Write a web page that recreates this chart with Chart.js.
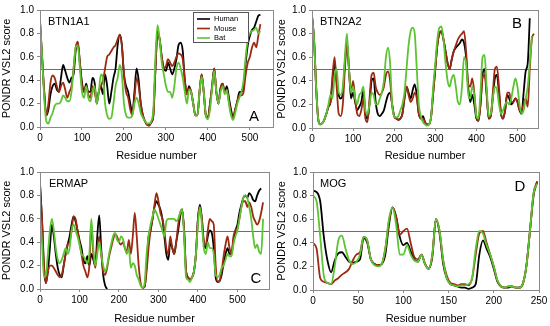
<!DOCTYPE html>
<html>
<head>
<meta charset="utf-8">
<script src="https://cdn.jsdelivr.net/npm/chart.js@4/dist/chart.umd.min.js"></script>
<style>
  body { margin: 0; background: #fff; }
  #wrap { position: relative; width: 550px; height: 326px; }
  .panel { position: absolute; width: 275px; height: 163px; }
</style>
</head>
<body>
<div id="wrap">
  <div class="panel" style="left:0;top:0"><canvas id="cA" width="275" height="163"></canvas></div>
  <div class="panel" style="left:275px;top:0"><canvas id="cB" width="275" height="163"></canvas></div>
  <div class="panel" style="left:0;top:163px"><canvas id="cC" width="275" height="163"></canvas></div>
  <div class="panel" style="left:275px;top:163px"><canvas id="cD" width="275" height="163"></canvas></div>
</div>
<script>
function range(a, b, s) {
  const r = [];
  for (let v = a; v <= b; v += s) r.push(v);
  return r;
}

const seriesNames = ["Human", "Mouse", "Bat"];
const yTicks = [0, 0.2, 0.4, 0.6, 0.8, 1.0];
const xTicks500 = [0, 100, 200, 300, 400, 500];
const xTicks250 = [0, 50, 100, 150, 200, 250];

// BTN1A1
const residuesA = range(0, 525, 5);
const humanA = [0.9,0.6,0.3,0.1,0.15,0.28,0.35,0.37,0.32,0.3,
  0.42,0.53,0.48,0.42,0.38,0.42,0.45,0.65,0.72,0.55,
  0.38,0.3,0.37,0.3,0.3,0.42,0.38,0.2,0.3,0.35,
  0.28,0.45,0.35,0.2,0.3,0.42,0.5,0.7,0.79,0.7,
  0.45,0.35,0.3,0.2,0.12,0.3,0.5,0.4,0.2,0.1,
  0.05,0.02,0.02,0.04,0.1,0.5,0.82,0.75,0.6,0.5,
  0.48,0.55,0.5,0.45,0.5,0.58,0.7,0.72,0.65,0.4,
  0.28,0.35,0.3,0.2,0.1,0.1,0.3,0.45,0.3,0.1,
  0.08,0.2,0.35,0.5,0.3,0.2,0.33,0.37,0.3,0.35,
  0.25,0.15,0.08,0.15,0.22,0.3,0.3,0.35,0.55,0.7,
  0.78,0.83,0.85,0.9,0.95,0.96];
const mouseA = [0.9,0.6,0.3,0.1,0.2,0.38,0.44,0.42,0.35,0.3,
  0.35,0.38,0.32,0.25,0.3,0.35,0.5,0.68,0.73,0.55,
  0.35,0.3,0.35,0.28,0.25,0.35,0.3,0.22,0.3,0.35,
  0.4,0.5,0.6,0.62,0.65,0.68,0.7,0.75,0.79,0.7,
  0.45,0.3,0.25,0.15,0.1,0.25,0.42,0.35,0.2,0.1,
  0.05,0.02,0.01,0.04,0.1,0.5,0.8,0.75,0.6,0.5,
  0.52,0.58,0.55,0.52,0.55,0.6,0.63,0.62,0.58,0.4,
  0.28,0.33,0.3,0.2,0.1,0.1,0.3,0.45,0.3,0.1,
  0.07,0.2,0.35,0.5,0.3,0.2,0.33,0.37,0.3,0.3,
  0.22,0.12,0.08,0.15,0.22,0.27,0.27,0.3,0.45,0.55,
  0.6,0.68,0.72,0.68,0.78,0.88];
const batA = [0.92,0.6,0.25,0.05,0.03,0.08,0.12,0.18,0.2,0.2,
  0.22,0.27,0.25,0.22,0.22,0.3,0.5,0.68,0.7,0.5,
  0.3,0.25,0.35,0.25,0.22,0.3,0.35,0.2,0.3,0.45,
  0.42,0.2,0.1,0.07,0.08,0.2,0.35,0.42,0.53,0.45,
  0.2,0.1,0.08,0.08,0.1,0.2,0.25,0.2,0.12,0.08,
  0.05,0.03,0.03,0.05,0.15,0.6,0.87,0.75,0.55,0.45,
  0.35,0.3,0.3,0.25,0.35,0.5,0.55,0.5,0.42,0.3,
  0.2,0.32,0.3,0.2,0.1,0.1,0.3,0.43,0.3,0.1,
  0.07,0.15,0.33,0.48,0.3,0.2,0.3,0.35,0.28,0.32,
  0.2,0.1,0.06,0.12,0.2,0.25,0.3,0.4,0.6,0.75,
  0.8,0.82,0.83,0.85,0.8,0.82];

// BTN2A2
const residuesB = range(0, 540, 5);
const humanB = [0.95,0.75,0.35,0.08,0.03,0.04,0.07,0.12,0.18,0.22,
  0.4,0.55,0.4,0.28,0.25,0.3,0.55,0.72,0.5,0.25,
  0.3,0.22,0.15,0.18,0.22,0.32,0.12,0.08,0.2,0.4,
  0.42,0.22,0.12,0.1,0.12,0.15,0.22,0.28,0.3,0.2,
  0.1,0.08,0.07,0.08,0.12,0.25,0.35,0.3,0.25,0.32,
  0.37,0.28,0.12,0.08,0.1,0.05,0.03,0.03,0.1,0.3,
  0.5,0.7,0.8,0.82,0.75,0.65,0.55,0.5,0.58,0.65,
  0.68,0.7,0.72,0.75,0.72,0.6,0.35,0.22,0.28,0.2,
  0.08,0.06,0.2,0.45,0.5,0.3,0.08,0.1,0.25,0.42,
  0.45,0.3,0.12,0.08,0.15,0.28,0.25,0.2,0.22,0.25,
  0.22,0.15,0.12,0.3,0.48,0.55,0.93,null,null];
const mouseB = [0.95,0.75,0.35,0.08,0.03,0.04,0.07,0.12,0.18,0.22,
  0.45,0.6,0.35,0.12,0.1,0.2,0.5,0.72,0.5,0.3,
  0.4,0.25,0.12,0.1,0.15,0.25,0.08,0.05,0.25,0.45,
  0.47,0.35,0.3,0.28,0.3,0.35,0.45,0.48,0.4,0.2,
  0.1,0.08,0.07,0.08,0.12,0.25,0.35,0.28,0.22,0.25,
  0.3,0.25,0.12,0.08,0.08,0.05,0.03,0.03,0.1,0.3,
  0.5,0.7,0.8,0.82,0.75,0.65,0.55,0.5,0.58,0.65,
  0.7,0.75,0.78,0.8,0.82,0.65,0.38,0.35,0.42,0.3,
  0.1,0.06,0.2,0.42,0.45,0.28,0.08,0.1,0.3,0.5,
  0.52,0.35,0.12,0.08,0.15,0.3,0.3,0.22,0.22,0.25,
  0.22,0.15,0.15,0.2,0.25,0.18,0.5,0.75,0.8];
const batB = [0.95,0.75,0.35,0.08,0.03,0.04,0.07,0.12,0.2,0.28,
  0.25,0.45,0.5,0.3,0.28,0.35,0.6,0.8,0.5,0.3,
  0.35,0.25,0.2,0.28,0.3,0.35,0.15,0.12,0.2,0.3,
  0.28,0.2,0.2,0.25,0.3,0.4,0.6,0.68,0.55,0.2,
  0.1,0.09,0.1,0.15,0.2,0.3,0.5,0.7,0.82,0.85,
  0.8,0.5,0.2,0.1,0.05,0.03,0.02,0.03,0.1,0.35,
  0.55,0.75,0.85,0.86,0.75,0.55,0.4,0.35,0.42,0.45,
  0.35,0.22,0.2,0.35,0.6,0.55,0.3,0.25,0.35,0.28,
  0.1,0.08,0.3,0.6,0.62,0.35,0.1,0.12,0.25,0.35,
  0.33,0.2,0.12,0.15,0.2,0.22,0.2,0.25,0.35,0.42,
  0.35,0.2,0.12,0.15,0.25,0.35,0.55,0.78,null];

// ERMAP
const residuesC = range(0, 565, 5);
const humanC = [0.9,0.6,0.2,0.05,0.15,0.35,0.55,0.45,0.3,0.18,
  0.12,0.1,0.2,0.3,0.38,0.45,0.55,0.62,0.58,0.5,
  0.42,0.35,0.25,0.22,0.28,0.2,0.3,0.25,0.2,0.45,
  0.63,0.35,0.12,0.03,0.0,null,null,null,null,null,
  null,null,null,null,null,null,null,null,null,null,
  null,null,0.01,0.02,0.2,0.45,0.5,0.6,0.7,0.75,
  0.72,0.68,0.6,0.45,0.3,0.25,0.4,0.35,0.3,0.4,
  0.5,0.62,0.68,0.5,0.15,0.1,0.08,0.1,0.15,0.3,
  0.6,0.72,0.6,0.4,0.35,0.45,0.5,0.48,0.35,0.1,
  0.06,0.07,0.12,0.22,0.3,0.35,0.3,0.3,0.42,0.5,
  0.55,0.65,0.72,0.78,0.8,0.78,0.82,0.8,0.76,0.75,
  0.8,0.84,0.86,null];
const mouseC = [0.9,0.6,0.2,0.05,0.15,0.2,0.2,0.18,0.15,0.12,
  0.1,0.12,0.2,0.3,0.38,0.4,0.5,0.62,0.6,0.5,
  0.4,0.3,0.2,0.15,0.1,0.2,0.55,0.3,0.18,0.35,
  0.45,0.3,0.15,0.12,0.18,0.28,0.35,0.42,0.47,0.45,
  0.4,0.38,0.4,0.35,0.32,0.42,0.3,0.45,0.65,0.45,
  0.2,0.05,0.01,0.02,0.15,0.35,0.5,0.6,0.72,0.82,
  0.75,0.65,0.6,0.5,0.35,0.3,0.45,0.35,0.3,0.4,
  0.55,0.65,0.68,0.5,0.15,0.1,0.08,0.1,0.15,0.3,
  0.6,0.7,0.6,0.4,0.38,0.5,0.6,0.58,0.55,0.2,
  0.06,0.07,0.15,0.28,0.38,0.45,0.35,0.3,0.45,0.5,
  0.52,0.6,0.7,0.75,0.75,0.7,0.74,0.7,0.62,0.58,
  0.55,0.58,0.65,0.74];
const batC = [0.65,0.4,0.1,0.12,0.3,0.5,0.6,0.5,0.35,0.25,
  0.22,0.25,0.3,0.35,0.3,0.35,0.5,0.55,0.5,0.45,
  0.38,0.3,0.28,0.25,0.22,0.3,0.6,0.35,0.2,0.3,
  0.4,0.3,0.2,0.15,0.2,0.3,0.38,0.45,0.48,0.42,
  0.4,0.45,0.43,0.35,0.3,0.35,0.18,0.22,0.2,0.12,
  0.08,0.03,0.01,0.05,0.3,0.45,0.55,0.62,0.68,0.65,
  0.6,0.55,0.5,0.45,0.58,0.6,0.6,0.6,0.6,0.58,
  0.6,0.65,0.68,0.45,0.1,0.08,0.06,0.1,0.15,0.3,
  0.55,0.7,0.55,0.35,0.3,0.4,0.35,0.35,0.3,0.12,
  0.1,0.12,0.18,0.2,0.25,0.3,0.28,0.28,0.38,0.45,
  0.5,0.6,0.7,0.78,0.8,0.78,0.7,0.6,0.45,0.35,
  0.38,0.32,0.3,0.6];

// MOG
const residuesD = range(0, 248, 4);
const humanD = [0.84,0.83,0.75,0.45,0.25,0.15,0.25,0.31,0.32,0.28,
  0.24,0.23,0.24,0.26,0.44,0.4,0.26,0.22,0.21,0.22,
  0.3,0.55,0.7,0.62,0.45,0.38,0.4,0.33,0.26,0.24,
  0.3,0.22,0.18,0.28,0.6,0.48,0.22,0.1,0.05,0.04,
  0.03,0.02,0.02,0.01,0.02,0.05,0.3,0.42,0.35,0.28,
  0.18,0.07,0.03,0.02,0.02,0.03,0.02,0.02,0.05,0.2,
  0.5,0.8,0.92];
const mouseD = [0.4,0.35,0.1,0.07,0.06,0.05,0.08,0.1,0.13,0.15,
  0.18,0.25,0.3,0.32,0.45,0.42,0.26,0.22,0.21,0.22,
  0.35,0.58,0.7,0.62,0.47,0.5,0.52,0.4,0.28,0.26,
  0.3,0.22,0.18,0.3,0.6,0.5,0.25,0.12,0.06,0.05,
  0.04,0.05,0.05,0.04,0.1,0.3,0.48,0.5,0.4,0.3,
  0.2,0.08,0.03,0.02,0.03,0.03,0.02,0.02,0.05,0.2,
  0.5,0.82,0.92];
const batD = [0.8,0.75,0.45,0.12,0.06,0.05,0.2,0.42,0.46,0.35,
  0.25,0.22,0.24,0.3,0.45,0.42,0.26,0.21,0.2,0.22,
  0.35,0.6,0.7,0.55,0.3,0.3,0.38,0.3,0.25,0.24,
  0.3,0.22,0.18,0.3,0.6,0.5,0.25,0.1,0.05,0.04,
  0.03,0.04,0.04,0.05,0.1,0.35,0.5,0.48,0.38,0.3,
  0.2,0.08,0.03,0.02,0.03,0.03,0.02,0.02,0.05,0.2,
  0.5,0.82,0.9];

const colors = ["#000000", "#9c2a12", "#5cc431"];
const font = "'Liberation Sans', Arial, sans-serif";

// frame, 0.5 threshold line, panel names and legend
const panelPlugin = {
  id: "panel",
  beforeDatasetsDraw(chart) {
    const a = chart.chartArea;
    const y = chart.scales.y.getPixelForValue(0.5);
    const ctx = chart.ctx;
    ctx.save();
    ctx.strokeStyle = "#6e6e6e";
    ctx.lineWidth = 1;
    ctx.beginPath();
    ctx.moveTo(a.left, Math.round(y) + 0.5);
    ctx.lineTo(a.right, Math.round(y) + 0.5);
    ctx.stroke();
    ctx.restore();
  },
  afterDraw(chart, args, o) {
    const a = chart.chartArea;
    const ctx = chart.ctx;
    ctx.save();
    ctx.strokeStyle = "#8a8a8a";
    ctx.lineWidth = 1;
    ctx.strokeRect(Math.round(a.left) + 0.5, Math.round(a.top) + 0.5,
      Math.round(a.right - a.left), Math.round(a.bottom - a.top));
    ctx.fillStyle = "#000";
    ctx.font = "11px " + font;
    ctx.textAlign = "left";
    ctx.fillText(o.name, o.nameX, o.nameY);
    ctx.font = "15px " + font;
    ctx.textAlign = "center";
    ctx.fillText(o.letter, o.letterX, o.letterY);
    if (o.legend) {
      const L = o.legend;
      ctx.fillStyle = "#fff";
      ctx.fillRect(L.x, L.y, L.w, L.h);
      ctx.strokeStyle = "#555";
      ctx.strokeRect(L.x + 0.5, L.y + 0.5, L.w, L.h);
      ctx.font = "7.5px " + font;
      ctx.textAlign = "left";
      ctx.textBaseline = "middle";
      seriesNames.forEach((n, i) => {
        const yy = L.y + 7 + i * 9.5;
        ctx.strokeStyle = colors[i];
        ctx.lineWidth = 1.6;
        ctx.beginPath();
        ctx.moveTo(L.x + 4, yy);
        ctx.lineTo(L.x + 17, yy);
        ctx.stroke();
        ctx.fillStyle = "#000";
        ctx.fillText(n, L.x + 21, yy);
      });
    }
    ctx.restore();
  },
};

function makeChart(id, cfg) {
  const pts = (ys) => cfg.x.map((x, i) => ({ x: x, y: ys[i] }));
  return new Chart(document.getElementById(id), {
    type: "line",
    data: {
      datasets: [cfg.human, cfg.mouse, cfg.bat].map((ys, i) => ({
        label: seriesNames[i],
        data: pts(ys),
        borderColor: colors[i],
        backgroundColor: colors[i],
        order: 3 - i,
      })),
    },
    options: {
      responsive: false,
      animation: false,
      spanGaps: false,
      layout: { padding: { top: cfg.top, right: cfg.right, left: 0, bottom: 0 } },
      elements: {
        point: { radius: 0 },
        line: { borderWidth: 1.8, cubicInterpolationMode: "monotone" },
      },
      plugins: {
        legend: { display: false },
        tooltip: { enabled: false },
        panel: cfg.labels,
      },
      scales: {
        x: {
          type: "linear",
          min: 0,
          max: cfg.xmax,
          ticks: { autoSkip: false, color: "#000", font: { family: font, size: 10 }, padding: 2, maxRotation: 0 },
          afterBuildTicks: (s) => { s.ticks = cfg.xticks.map((v) => ({ value: v })); },
          grid: { drawOnChartArea: false, tickLength: 3, color: "#8a8a8a" },
          border: { color: "#8a8a8a" },
          title: { display: true, text: "Residue number", color: "#000", font: { family: font, size: 11 }, padding: { top: 3, bottom: 0 } },
          afterFit: (s) => { s.height = cfg.xh; },
        },
        y: {
          min: 0,
          max: 1,
          afterBuildTicks: (s) => { s.ticks = yTicks.map((v) => ({ value: v })); },
          ticks: { autoSkip: false, color: "#000", font: { family: font, size: 10 }, padding: 3, callback: (v) => v.toFixed(1) },
          grid: { drawOnChartArea: false, tickLength: 3, color: "#8a8a8a" },
          border: { color: "#8a8a8a" },
          title: { display: true, text: "PONDR VSL2 score", color: "#000", font: { family: font, size: 11 }, padding: { top: 0, bottom: 2 } },
          afterFit: (s) => { s.width = cfg.yw; },
        },
      },
    },
    plugins: [panelPlugin],
  });
}

window.onload = function () {
  makeChart("cA", {
    x: residuesA, human: humanA, mouse: mouseA, bat: batA, xticks: xTicks500,
    xmax: 555, top: 10, right: 2, xh: 36, yw: 40,
    labels: { name: "BTN1A1", nameX: 48, nameY: 25, letter: "A", letterX: 254, letterY: 121,
      legend: { x: 193, y: 12, w: 55, h: 30 } },
  });
  makeChart("cB", {
    x: residuesB, human: humanB, mouse: mouseB, bat: batB, xticks: xTicks500,
    xmax: 550, top: 10, right: 12, xh: 35, yw: 37,
    labels: { name: "BTN2A2", nameX: 45, nameY: 25, letter: "B", letterX: 242, letterY: 28 },
  });
  makeChart("cC", {
    x: residuesC, human: humanC, mouse: mouseC, bat: batC, xticks: xTicks500,
    xmax: 580, top: 8, right: 6, xh: 37, yw: 40,
    labels: { name: "ERMAP", nameX: 49, nameY: 24, letter: "C", letterX: 256, letterY: 120 },
  });
  makeChart("cD", {
    x: residuesD, human: humanD, mouse: mouseD, bat: batD, xticks: xTicks250,
    xmax: 250, top: 8, right: 11, xh: 36, yw: 38,
    labels: { name: "MOG", nameX: 45, nameY: 24, letter: "D", letterX: 245, letterY: 28 },
  });
};
</script>
</body>
</html>
